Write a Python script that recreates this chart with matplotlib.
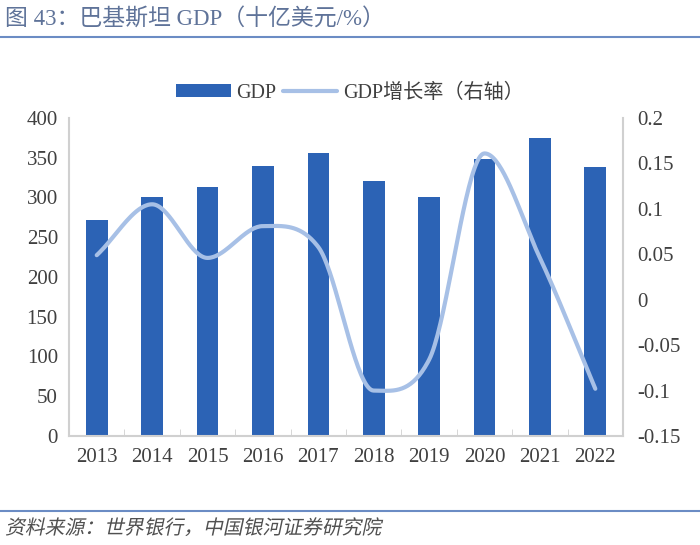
import numpy as np
import matplotlib
matplotlib.use("Agg")
import matplotlib.pyplot as plt
from matplotlib.textpath import TextPath
from matplotlib.patches import PathPatch
from matplotlib.font_manager import FontProperties
from matplotlib.transforms import Affine2D

plt.rcParams['font.family'] = ['Liberation Serif', 'Noto Sans CJK SC']

years = ["2013", "2014", "2015", "2016", "2017", "2018", "2019", "2020", "2021", "2022"]
gdp = [272, 300, 313, 340, 356, 321, 300, 348, 375, 338]
growth = [0.049, 0.105, 0.046, 0.081, 0.058, -0.100, -0.066, 0.161, 0.046, -0.098]

bar_color = "#2c63b5"
line_color = "#a7c0e6"
axis_color = "#d0d0d0"
text_color = "#404040"


def smooth(x, y, n=40):
    # catmull-rom tangents, flattened at turning points, limited to keep overshoot small
    x = np.asarray(x, float)
    y = np.asarray(y, float)
    h = np.diff(x)
    d = np.diff(y) / h
    m = np.zeros_like(y)
    m[0], m[-1] = d[0], d[-1]
    for i in range(1, len(y) - 1):
        if d[i - 1] * d[i] > 0:
            cr = (d[i - 1] + d[i]) / 2
            lim = 3.5 * min(abs(d[i - 1]), abs(d[i]))
            m[i] = np.sign(cr) * min(abs(cr), lim)
    xs, ys = [], []
    for i in range(len(h)):
        t = np.linspace(0, 1, n)
        h00 = 2 * t**3 - 3 * t**2 + 1
        h10 = t**3 - 2 * t**2 + t
        h01 = -2 * t**3 + 3 * t**2
        h11 = t**3 - t**2
        xs.extend(x[i] + t * h[i])
        ys.extend(h00 * y[i] + h10 * h[i] * m[i] + h01 * y[i + 1] + h11 * h[i] * m[i + 1])
    return np.array(xs), np.array(ys)


fig = plt.figure(figsize=(7, 5.45), dpi=100)
ax = fig.add_axes([0.0986, 0.2, 0.7914, 0.5835])
ax2 = ax.twinx()

x = np.arange(len(years))
ax.bar(x, gdp, width=0.39, color=bar_color, label="GDP", zorder=2)
sx, sy = smooth(x, growth)
ax2.plot(sx, sy, color=line_color, linewidth=3, label="GDP增长率（右轴）", solid_capstyle="round")

ax.set_xlim(-0.5, len(years) - 0.5)
ax.set_ylim(0, 400)
ax.set_yticks(range(0, 401, 50))
ax2.set_ylim(-0.15, 0.2)
ax2.set_yticks([-0.15, -0.1, -0.05, 0, 0.05, 0.1, 0.15, 0.2])
ax2.set_yticklabels(["-0.15", "-0.1", "-0.05", "0", "0.05", "0.1", "0.15", "0.2"])

ax.set_xticks(x)
ax.set_xticklabels(years)
ax.tick_params(axis="x", length=0, labelsize=15, labelcolor=text_color, pad=9)
ax.set_xticks(np.arange(0.5, len(years) - 1, 1), minor=True)
ax.tick_params(axis="x", which="minor", direction="in", length=5, color=axis_color)
ax.tick_params(axis="y", length=0, labelsize=15, labelcolor=text_color, pad=8)
ax2.tick_params(axis="y", length=0, labelsize=15, labelcolor=text_color, pad=10)

for a in (ax, ax2):
    a.spines["top"].set_visible(False)
    for s in ("left", "right", "bottom"):
        a.spines[s].set_color(axis_color)
        a.spines[s].set_linewidth(1.5)
ax.spines["right"].set_visible(False)
ax2.spines["left"].set_visible(False)
ax2.spines["bottom"].set_visible(False)

h1, l1 = ax.get_legend_handles_labels()
h2, l2 = ax2.get_legend_handles_labels()
fig.legend(h1 + h2, l1 + l2, loc="center", bbox_to_anchor=(0.5, 0.829), ncol=2,
           frameon=False, fontsize=14.5, handlelength=2.7, handleheight=0.6,
           columnspacing=0.3, handletextpad=0.3, labelcolor=text_color)

fig.text(0.007, 0.965, "图 43：巴基斯坦 GDP（十亿美元/%）", fontsize=16.5, color="#5f7399",
         va="center", ha="left")
fig.add_artist(plt.Line2D([0, 1], [0.932, 0.932], color="#6b8cc4", linewidth=1.5))
fig.add_artist(plt.Line2D([0, 1], [0.062, 0.062], color="#6b8cc4", linewidth=1.5))

# footer in slanted type (the CJK font has no italic face)
source = "资料来源：世界银行，中国银河证券研究院"
tp = TextPath((0, 0), source, size=19.8,
              prop=FontProperties(family=["Noto Sans CJK SC"], weight="light"))
slant = Affine2D().skew_deg(12, 0).translate(5, 11)
fig.add_artist(PathPatch(tp, transform=slant, facecolor="#505050", edgecolor="none"))

fig.savefig("out.png", dpi=100)
